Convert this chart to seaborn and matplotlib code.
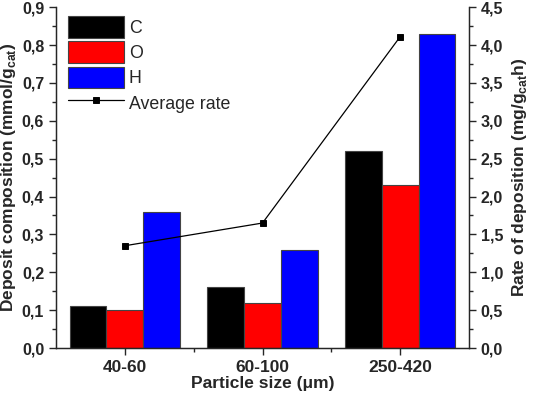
import numpy as np
import pandas as pd
import matplotlib
matplotlib.use("Agg")
import matplotlib.pyplot as plt
from matplotlib.ticker import FuncFormatter, MultipleLocator, AutoMinorLocator
import seaborn as sns

sizes = ["40-60", "60-100", "250-420"]
carbon = [0.11, 0.16, 0.52]
oxygen = [0.10, 0.12, 0.43]
hydrogen = [0.36, 0.26, 0.83]
avg_rate = [1.35, 1.65, 4.11]

sns.set_style("ticks")
plt.rcParams['font.family'] = ['Liberation Sans', 'DejaVu Sans']
plt.rcParams['mathtext.fontset'] = 'custom'
plt.rcParams['mathtext.bf'] = 'Liberation Sans:bold'
plt.rcParams['mathtext.rm'] = 'Liberation Sans'

df = pd.DataFrame({
    "size": sizes * 3,
    "element": ["C"] * 3 + ["O"] * 3 + ["H"] * 3,
    "value": carbon + oxygen + hydrogen,
})
rate = pd.DataFrame({"size": sizes, "rate": avg_rate})

fig = plt.figure(figsize=(5.36, 3.97), dpi=100)
ax = fig.add_axes([0.1045, 0.1234, 0.7705, 0.8586])
sns.barplot(data=df, x="size", y="value", hue="element",
            palette=["#000000", "#ff0000", "#0000ff"], saturation=1, width=0.8,
            edgecolor="#444444", linewidth=0.8, ax=ax)
ax.set_xlim(-0.5, 2.5)
ax.set_ylim(0, 0.9)

ax2 = ax.twinx()
sns.pointplot(data=rate, x="size", y="rate", color="black", markers="s",
              markersize=5, linewidth=0.9, ax=ax2, label="Average rate")
ax2.set_xlim(-0.5, 2.5)
ax2.set_ylim(0, 4.5)

fmt = FuncFormatter(lambda v, p: f"{v:.1f}".replace(".", ","))
ax.yaxis.set_major_locator(MultipleLocator(0.1))
ax.yaxis.set_minor_locator(AutoMinorLocator(2))
ax.yaxis.set_major_formatter(fmt)
ax2.yaxis.set_major_locator(MultipleLocator(0.5))
ax2.yaxis.set_minor_locator(AutoMinorLocator(2))
ax2.yaxis.set_major_formatter(fmt)
ax.set_xticks([0, 1, 2])
ax.set_xticks([0.5, 1.5], minor=True)

for a in (ax, ax2):
    a.spines["top"].set_visible(False)
    a.tick_params(which="both", direction="out", width=1, labelsize=11.5)
    a.tick_params(which="major", length=5)
    a.tick_params(which="minor", length=3)
    for lab in a.get_yticklabels() + a.get_xticklabels():
        lab.set_fontweight("bold")
ax.tick_params(axis="x", labelsize=12.5)
ax2.spines["right"].set_visible(True)
for s in ("left", "bottom"):
    ax.spines[s].set_linewidth(1)
ax2.spines["right"].set_linewidth(1)

ax.set_xlabel("Particle size (\u03bcm)", fontsize=12.5, fontweight="bold", labelpad=1)
ax.set_ylabel("Deposit composition (mmol/g$_{\\mathbf{cat}}$)", fontsize=12.5,
              fontweight="bold", labelpad=3)
ax2.set_ylabel("Rate of deposition (mg/g$_{\\mathbf{cat}}$h)", fontsize=12.5,
               fontweight="bold", labelpad=5)

h1, l1 = ax.get_legend_handles_labels()
h2, l2 = ax2.get_legend_handles_labels()
if ax2.get_legend():
    ax2.get_legend().remove()
ax.legend(h1 + h2, l1 + l2, loc="upper left", bbox_to_anchor=(0.0, 1.01),
          frameon=False, fontsize=12.8, handlelength=3.1, handleheight=1.5,
          labelspacing=0.2, handletextpad=0.3, borderaxespad=0.3)

fig.savefig("out.png", dpi=100)
